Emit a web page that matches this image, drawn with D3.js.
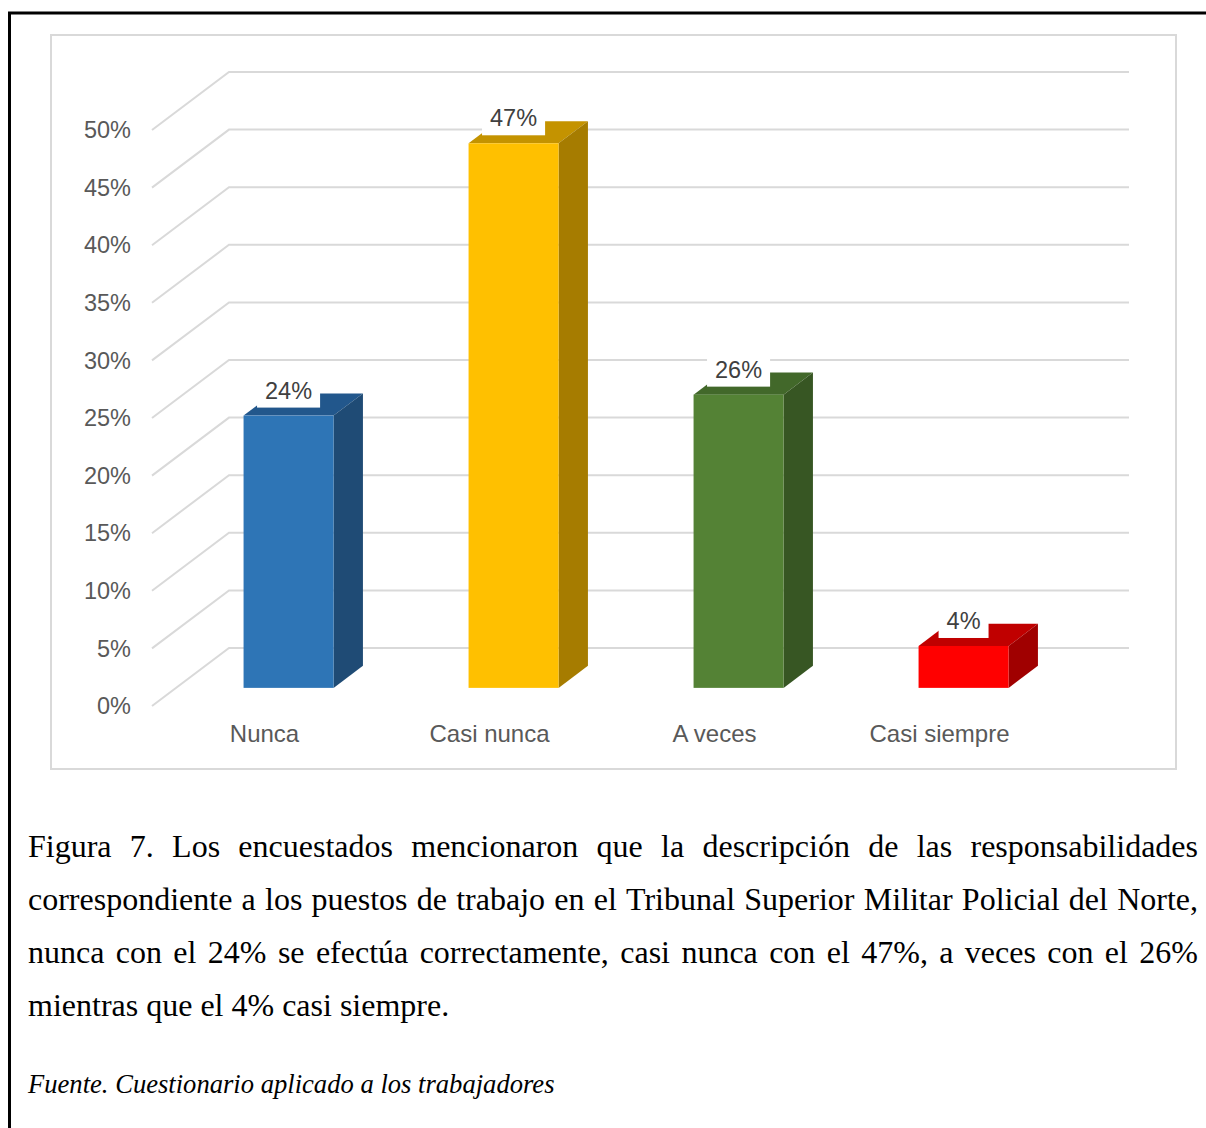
<!DOCTYPE html>
<html lang="es">
<head>
<meta charset="utf-8">
<title>Figura 7</title>
<script src="https://cdn.jsdelivr.net/npm/d3@7"></script>
<style>
  body { margin: 0; background: #fff; }
  svg { display: block; }
  .tick-label { font: 23.5px "Liberation Sans", Arial, sans-serif; fill: #595959; }
  .cat-label { font: 24px "Liberation Sans", Arial, sans-serif; fill: #595959; }
  .val-label { font: 23.5px "Liberation Sans", Arial, sans-serif; fill: #404040; }
  .caption { font: 32px "Liberation Serif", "Times New Roman", serif; fill: #000; }
  .source { font: italic 26.6px "Liberation Serif", "Times New Roman", serif; fill: #000; }
</style>
</head>
<body>
<script>

// data: 55 respondents
var categories = ["Nunca", "Casi nunca", "A veces", "Casi siempre"];
var counts = [13, 26, 14, 2];
var total = 55;
var labels = ["24%", "47%", "26%", "4%"];
var ticks = [0, 0.05, 0.1, 0.15, 0.2, 0.25, 0.3, 0.35, 0.4, 0.45, 0.5];

var fronts = ["#2e75b6", "#ffc000", "#548235", "#ff0000"];
var tops   = ["#22578c", "#c49300", "#42682a", "#c00000"];
var sides  = ["#1f4b75", "#a67c00", "#375623", "#a00000"];

var captionLines = [
  "Figura 7. Los encuestados mencionaron que la descripción de las responsabilidades",
  "correspondiente a los puestos de trabajo en el Tribunal Superior Militar Policial del Norte,",
  "nunca con el 24% se efectúa correctamente, casi nunca con el 47%, a veces con el 26%",
  "mientras que el 4% casi siempre."
];
var sourceText = "Fuente. Cuestionario aplicado a los trabajadores";

var w = 1206, h = 1128;

// 3D depth of the plot (floor depth)
var depthX = 77, depthY = -58;
// bar occupies this slice of the depth
var d0 = 0.3125, d1 = 0.694;

var svg = d3.select("body").append("svg")
  .attr("width", w)
  .attr("height", h);

// outer frame (runs past the right and bottom edge)
svg.append("rect")
  .attr("x", 9.5).attr("y", 13)
  .attr("width", 1300).attr("height", 1300)
  .attr("fill", "none")
  .attr("stroke", "#000")
  .attr("stroke-width", 3);

// chart area border
svg.append("rect")
  .attr("x", 51).attr("y", 35)
  .attr("width", 1125).attr("height", 734)
  .attr("fill", "#fff")
  .attr("stroke", "#d9d9d9")
  .attr("stroke-width", 2);

var y = d3.scaleLinear().domain([0, 0.5]).range([706, 130]);
var x = d3.scaleBand().domain(categories).range([152, 1052])
  .paddingInner(0.6).paddingOuter(0.3);
var xc = d3.scaleBand().domain(categories).range([152, 1052]);

// gridlines: diagonal on the side + horizontal on back wall
var grid = svg.append("g");
ticks.forEach(function(t) {
  grid.append("path")
    .attr("d", "M" + 152 + "," + y(t) +
               "L" + (152 + depthX) + "," + (y(t) + depthY) +
               "L" + (1052 + depthX) + "," + (y(t) + depthY))
    .attr("fill", "none")
    .attr("stroke", "#d9d9d9")
    .attr("stroke-width", 2);
});

// y tick labels
svg.selectAll(".tick-label")
  .data(ticks)
  .enter().append("text")
  .attr("class", "tick-label")
  .attr("x", 131)
  .attr("y", function(d) { return y(d); })
  .attr("dy", "0.35em")
  .attr("text-anchor", "end")
  .text(d3.format(".0%"));

// category labels
svg.selectAll(".cat-label")
  .data(categories)
  .enter().append("text")
  .attr("class", "cat-label")
  .attr("x", function(d) { return xc(d) + xc.bandwidth() / 2; })
  .attr("y", 734)
  .attr("dy", "0.35em")
  .attr("text-anchor", "middle")
  .text(function(d) { return d; });

// bars
var bx = depthX * d0, by = depthY * d0;
var ddx = depthX * (d1 - d0), ddy = depthY * (d1 - d0);

var bars = svg.selectAll(".bar")
  .data(counts)
  .enter().append("g")
  .attr("class", "bar");

bars.each(function(c, i) {
  var g = d3.select(this);
  var x0 = x(categories[i]) + bx, x1 = x0 + x.bandwidth();
  var yb = y(0) + by, yt = y(c / total) + by;

  // top face
  g.append("path")
    .attr("d", "M" + x0 + "," + yt + "L" + x1 + "," + yt +
               "L" + (x1 + ddx) + "," + (yt + ddy) +
               "L" + (x0 + ddx) + "," + (yt + ddy) + "Z")
    .attr("fill", tops[i]);
  // side face
  g.append("path")
    .attr("d", "M" + x1 + "," + yt + "L" + (x1 + ddx) + "," + (yt + ddy) +
               "L" + (x1 + ddx) + "," + (yb + ddy) +
               "L" + x1 + "," + yb + "Z")
    .attr("fill", sides[i]);
  // front face
  g.append("rect")
    .attr("x", x0).attr("y", yt)
    .attr("width", x1 - x0).attr("height", yb - yt)
    .attr("fill", fronts[i]);

  // data label with white box
  var cx = (x0 + x1) / 2;
  var box = g.append("rect").attr("fill", "#fff");
  var txt = g.append("text")
    .attr("class", "val-label")
    .attr("x", cx)
    .attr("y", yt - 17)
    .attr("text-anchor", "middle")
    .text(labels[i]);
  var tw = txt.node().getComputedTextLength();
  box.attr("x", cx - tw / 2 - 8)
    .attr("y", yt - 37)
    .attr("width", tw + 16)
    .attr("height", 29);
});

// caption, justified word by word
var capLeft = 28, capRight = 1198;
function placeLine(cls, text, baseY, justify) {
  var words = text.split(" ");
  var nodes = words.map(function(wd) {
    return svg.append("text").attr("class", cls).attr("y", baseY).text(wd);
  });
  var widths = nodes.map(function(n) { return n.node().getComputedTextLength(); });
  var probe = svg.append("text").attr("class", cls).text("a a");
  var probe2 = svg.append("text").attr("class", cls).text("aa");
  var space = probe.node().getComputedTextLength() - probe2.node().getComputedTextLength();
  probe.remove(); probe2.remove();
  var sum = d3.sum(widths);
  var gap = justify ? (capRight - capLeft - sum) / (words.length - 1) : space;
  var cur = capLeft;
  nodes.forEach(function(n, k) {
    n.attr("x", cur);
    cur += widths[k] + gap;
  });
}

captionLines.forEach(function(line, i) {
  placeLine("caption", line, 857 + i * 53, i < captionLines.length - 1);
});
placeLine("source", sourceText, 1093, false);

</script>
</body>
</html>
